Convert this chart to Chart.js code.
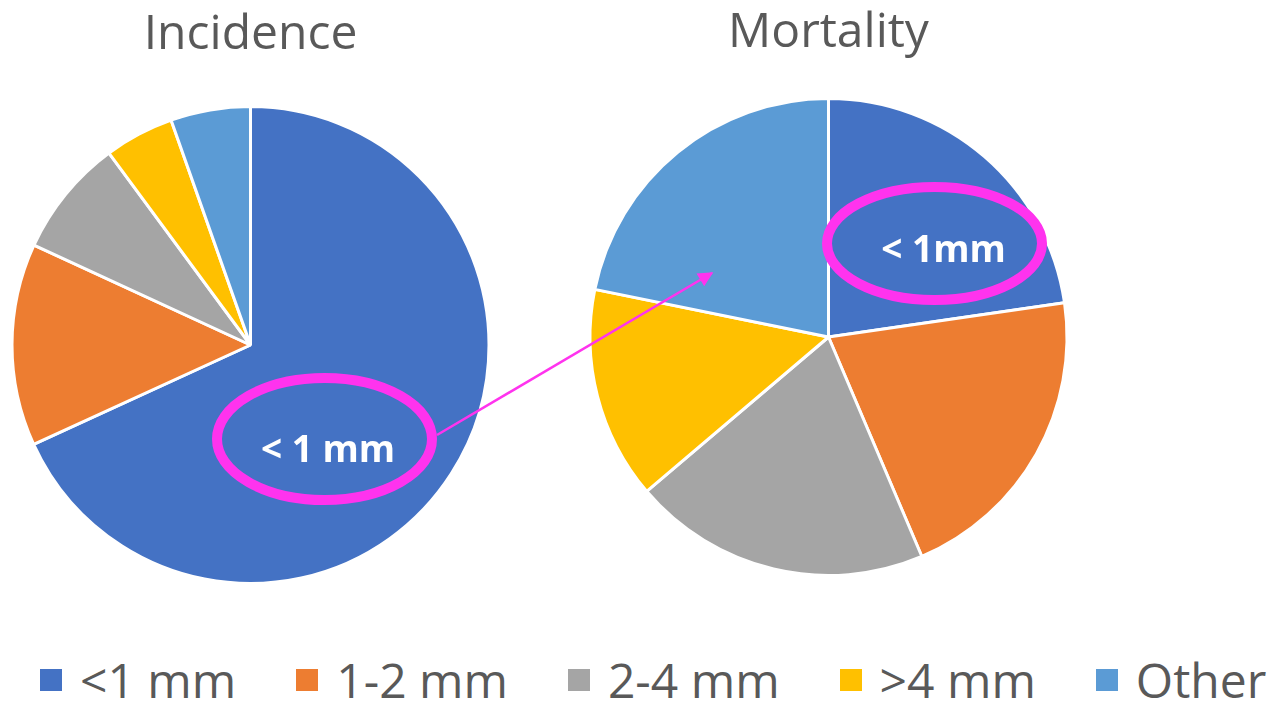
<!DOCTYPE html>
<html>
<head>
<meta charset="utf-8">
<script src="https://cdn.jsdelivr.net/npm/chart.js@4.4.1/dist/chart.umd.min.js"></script>
<style>
  html, body { margin: 0; padding: 0; background: #ffffff; }
  body { width: 1269px; height: 703px; position: relative; overflow: hidden; font-family: "Open Sans", sans-serif; }
  canvas { position: absolute; display: block; }
  #incidence { left: 0px; top: 0px; }
  #mortality { left: 578px; top: 0px; }
  #legend {
    position: absolute; left: 40px; top: 652px; height: 56px;
    display: flex; align-items: center; margin: 0; padding: 0; list-style: none;
  }
  #legend li { display: flex; align-items: center; margin-right: 60px; white-space: nowrap; }
  #legend li:last-child { margin-right: 0; }
  #legend .sw { width: 22px; height: 22px; margin-right: 18px; flex: none; }
  #legend .tx { font-size: 48px; color: #595959; line-height: 56px; }
  #notes { position: absolute; left: 0; top: 0; pointer-events: none; }
</style>
</head>
<body>
<canvas id="incidence" width="501" height="585"></canvas>
<canvas id="mortality" width="501" height="577"></canvas>
<ul id="legend"></ul>
<svg id="notes" width="1269" height="703" viewBox="0 0 1269 703">
  <defs>
    <marker id="head" viewBox="0 0 10 10" refX="9" refY="5" markerWidth="7" markerHeight="6" orient="auto" markerUnits="strokeWidth">
      <path d="M0,0 L10,5 L0,10 z" fill="#FF33EE"/>
    </marker>
  </defs>
  <line x1="437" y1="435" x2="712" y2="273" stroke="#FF33EE" stroke-width="2.5" marker-end="url(#head)"/>
  <ellipse cx="324.5" cy="439" rx="107.5" ry="61" fill="none" stroke="#FF33EE" stroke-width="10"/>
  <ellipse cx="934.5" cy="243.5" rx="107.5" ry="56.5" fill="none" stroke="#FF33EE" stroke-width="10"/>
  <text x="328" y="462" fill="#ffffff" font-family="Open Sans" font-weight="700" font-size="37" text-anchor="middle">&lt; 1 mm</text>
  <text x="943.5" y="262" fill="#ffffff" font-family="Open Sans" font-weight="700" font-size="37" text-anchor="middle">&lt; 1mm</text>
</svg>
<script>
// Tumour size groups and their share (%) of incidence and of mortality
const categories = ['<1 mm', '1-2 mm', '2-4 mm', '>4 mm', 'Other'];
const incidenceShare = [68.1, 13.7, 8.0, 4.7, 5.4];
const mortalityShare = [22.7, 20.9, 20.2, 14.4, 21.8];
const sliceColors = ['#4472C4', '#ED7D31', '#A5A5A5', '#FFC000', '#5B9BD5'];

const titleFont = { family: '"Open Sans", sans-serif', size: 48, weight: 'normal', lineHeight: 1.2 };

function pieConfig(title, values, pad) {
  return {
    type: 'pie',
    data: {
      labels: categories,
      datasets: [{
        data: values,
        backgroundColor: sliceColors,
        borderColor: '#ffffff',
        borderWidth: 3
      }]
    },
    options: {
      responsive: false,
      animation: false,
      layout: { padding: 0 },
      plugins: {
        legend: { display: false },
        tooltip: { enabled: false },
        title: {
          display: true,
          text: title,
          color: '#595959',
          font: titleFont,
          padding: pad
        }
      }
    }
  };
}

const incChart = new Chart(document.getElementById('incidence'),
  pieConfig('Incidence', incidenceShare, { top: 7, bottom: 40.4 }));
const mortChart = new Chart(document.getElementById('mortality'),
  pieConfig('Mortality', mortalityShare, { top: 5, bottom: 34.4 }));

// Shared legend for both pies, built from the chart's own legend items
const legendEl = document.getElementById('legend');
const items = incChart.options.plugins.legend.labels.generateLabels(incChart);
items.forEach(item => {
  const li = document.createElement('li');
  const sw = document.createElement('span');
  sw.className = 'sw';
  sw.style.background = item.fillStyle;
  const tx = document.createElement('span');
  tx.className = 'tx';
  tx.textContent = item.text;
  li.appendChild(sw);
  li.appendChild(tx);
  legendEl.appendChild(li);
});
</script>
</body>
</html>
